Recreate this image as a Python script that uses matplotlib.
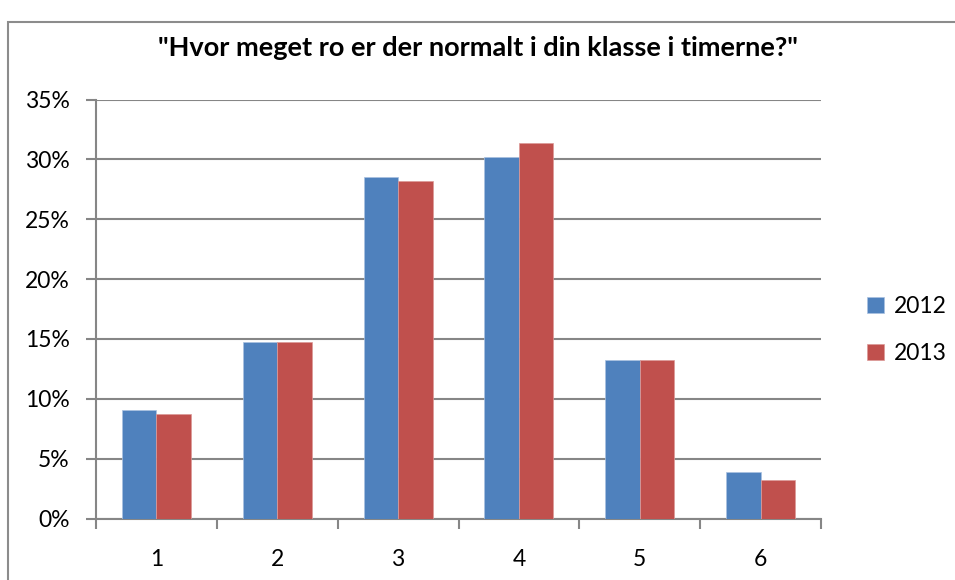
import matplotlib
matplotlib.use("Agg")
import matplotlib.pyplot as plt
from matplotlib.patches import Rectangle
from matplotlib.ticker import FixedLocator, FuncFormatter
import numpy as np

categories = ["1", "2", "3", "4", "5", "6"]
series_names = ["2012", "2013"]
values_2012 = [9.05, 14.73, 28.53, 30.2, 13.23, 3.9]
values_2013 = [8.72, 14.73, 28.2, 31.34, 13.23, 3.24]
yticks = [0, 5, 10, 15, 20, 25, 30, 35]
title = "\"Hvor meget ro er der normalt i din klasse i timerne?\""

colors = ["#4F81BD", "#C0504D"]
plt.rcParams['font.family'] = ['Lato', 'DejaVu Sans']

W, H = 955, 580
fig = plt.figure(figsize=(W / 100, H / 100), dpi=100)
fig.patch.set_facecolor("white")

# outer chart frame (cropped at right/bottom)
fig.patches.append(Rectangle((8 / W, -0.05), 1.2, 1 - 22 / H + 0.05, transform=fig.transFigure,
                             fill=False, edgecolor="#8c8c8c", linewidth=1.5))

ax = fig.add_axes([96 / W, 1 - 518.5 / H, (821 - 96) / W, (518.5 - 99.5) / H])

x = np.arange(len(categories))
w = 0.2857
ax.bar(x - w / 2, values_2012, width=w, color=colors[0], edgecolor="#a9c1e0", linewidth=0.5,
       label=series_names[0], zorder=3)
ax.bar(x + w / 2, values_2013, width=w, color=colors[1], edgecolor="#dc9a98", linewidth=0.5,
       label=series_names[1], zorder=3)

ax.set_xlim(-0.5, len(categories) - 0.5)
ax.set_ylim(0, 35)
ax.set_yticks(yticks)
ax.yaxis.set_major_formatter(FuncFormatter(lambda v, p: f"{int(v)}%"))
ax.grid(axis="y", color="#868686", linewidth=1.5, zorder=0)

ax.xaxis.set_major_locator(FixedLocator(np.arange(-0.5, len(categories), 1.0)))
ax.xaxis.set_major_formatter(FuncFormatter(lambda v, p: ""))
ax.xaxis.set_minor_locator(FixedLocator(x))
ax.set_xticklabels(categories, minor=True)
ax.tick_params(axis="x", which="minor", length=0, pad=22, labelsize=16.5)
ax.tick_params(axis="x", which="major", length=7, width=1.5, color="#868686", direction="out")
ax.tick_params(axis="y", length=7, width=1.5, color="#868686", direction="out", pad=12, labelsize=16.5)

for s in ["top", "right"]:
    ax.spines[s].set_visible(False)
for s in ["left", "bottom"]:
    ax.spines[s].set_color("#868686")
    ax.spines[s].set_linewidth(1.5)

fig.text(478 / W, 1 - 48 / H, title, ha="center", va="center", fontsize=19.5, fontweight="bold")

leg = fig.legend(loc="center left", bbox_to_anchor=(856 / W, 1 - 330 / H), frameon=False,
                 fontsize=16.5, handlelength=0.7, handleheight=0.7, handletextpad=0.45,
                 labelspacing=1.15, borderpad=0)

fig.savefig("out.png", dpi=100)
